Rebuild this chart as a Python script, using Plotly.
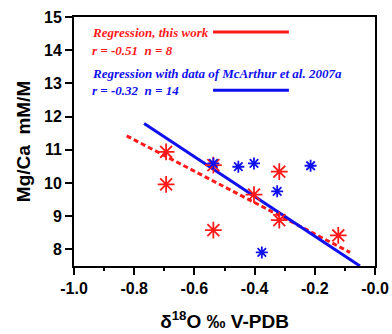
import plotly.graph_objects as go

# Mg/Ca versus d18O, this work (red) and McArthur et al. 2007a data (blue)
red_d18o = [-0.694, -0.694, -0.537, -0.537, -0.402, -0.318, -0.318, -0.122]
red_mgca = [10.94, 9.96, 10.54, 8.58, 9.65, 10.34, 8.88, 8.42]

blue_d18o = [-0.537, -0.454, -0.402, -0.325, -0.214, -0.376]
blue_mgca = [10.59, 10.49, 10.59, 9.75, 10.52, 7.91]

# regression line end points
red_fit_x = [-0.825, -0.083]
red_fit_y = [11.42, 7.91]
blue_fit_x = [-0.767, -0.050]
blue_fit_y = [11.79, 7.50]

x_ticks = [-1.0, -0.8, -0.6, -0.4, -0.2, 0.0]
x_tick_text = ["-1.0", "-0.8", "-0.6", "-0.4", "-0.2", "-0.0"]
y_ticks = [8, 9, 10, 11, 12, 13, 14, 15]

RED = "#ff1a1a"
BLUE = "#1010ee"

fig = go.Figure()
fig.add_trace(go.Scatter(x=red_fit_x, y=red_fit_y, mode="lines",
                         line=dict(color=RED, width=3, dash="5px,3px")))
fig.add_trace(go.Scatter(x=blue_fit_x, y=blue_fit_y, mode="lines",
                         line=dict(color=BLUE, width=3)))
fig.add_trace(go.Scatter(x=red_d18o, y=red_mgca, mode="markers",
                         marker=dict(symbol="asterisk-open", size=14, color=RED,
                                     line=dict(color=RED, width=1.8))))
fig.add_trace(go.Scatter(x=blue_d18o, y=blue_mgca, mode="markers",
                         marker=dict(symbol="asterisk-open", size=10, color=BLUE,
                                     line=dict(color=BLUE, width=1.8))))

tick_font = dict(family="Liberation Sans, Arial", size=16, color="black",
                 weight="bold")
title_font = dict(family="Liberation Sans, Arial", size=19, color="black",
                  weight="bold")
axis_common = dict(showline=True, linecolor="black", linewidth=2, mirror=True,
                   ticks="outside", tickcolor="black", tickwidth=1.5, ticklen=7,
                   showgrid=False, zeroline=False, tickfont=tick_font,
                   automargin=False)

fig.update_xaxes(range=[-1.0, 0.0], tickvals=x_ticks, ticktext=x_tick_text,
                 minor=dict(dtick=0.1, ticks="outside", ticklen=3,
                            tickcolor="black", tickwidth=1.5, showgrid=False),
                 title=dict(text="δ<sup>18</sup>O ‰ V-PDB", standoff=18,
                            font=title_font),
                 **axis_common)
fig.update_yaxes(range=[7.5, 15], tickvals=y_ticks,
                 title=dict(text="Mg/Ca  mM/M", standoff=8, font=title_font),
                 **axis_common)

legend_font = "Liberation Serif, Times New Roman, serif"
texts = [
    ("<b><i>Regression, this work</i></b>", 0.936, RED),
    ("<b><i>r = -0.51  n = 8</i></b>", 0.866, RED),
    ("<b><i>Regression with data of McArthur et al. 2007a</i></b>", 0.775, BLUE),
    ("<b><i>r = -0.32  n = 14</i></b>", 0.706, BLUE),
]
for txt, yy, col in texts:
    fig.add_annotation(x=0.053, y=yy, xref="paper", yref="paper", text=txt,
                       showarrow=False, xanchor="left", yanchor="middle",
                       font=dict(family=legend_font, size=13, color=col))

fig.add_shape(type="line", xref="paper", yref="paper", x0=0.462, x1=0.714,
              y0=0.94, y1=0.94, line=dict(color=RED, width=3))
fig.add_shape(type="line", xref="paper", yref="paper", x0=0.462, x1=0.714,
              y0=0.706, y1=0.706, line=dict(color=BLUE, width=3))

fig.update_layout(width=392, height=334, showlegend=False,
                  margin=dict(l=74, r=17, t=17, b=68),
                  paper_bgcolor="white", plot_bgcolor="white",
                  font=dict(family="Liberation Sans, Arial", color="black"))

fig.write_html("out.html")
